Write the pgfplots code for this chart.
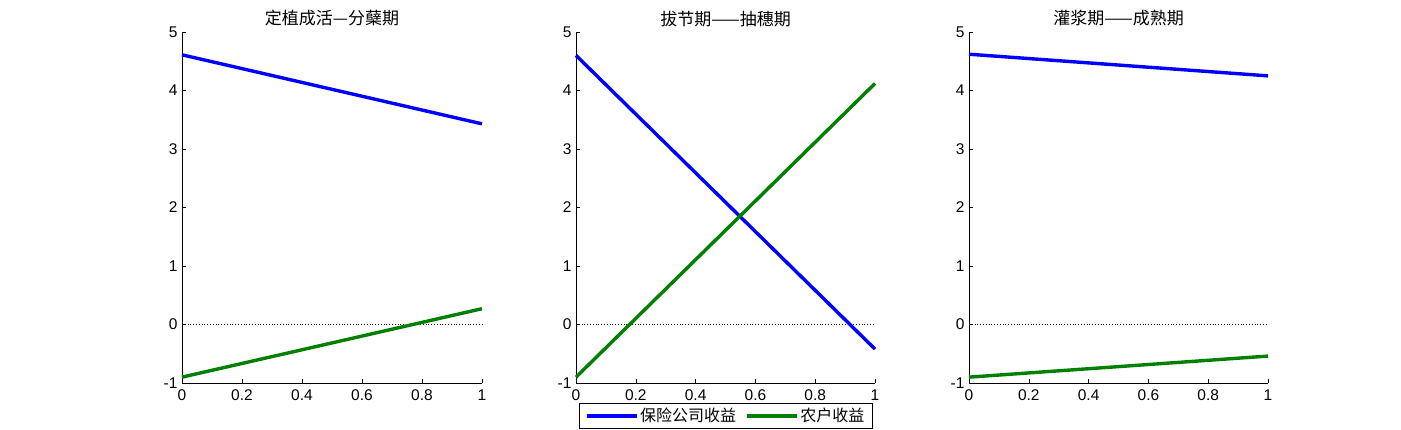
\documentclass[border=0pt]{standalone}
\usepackage{pgfplots}
\pgfplotsset{compat=1.18}
\usepackage{fontspec}
\setmainfont{Liberation Sans}
\newfontfamily\cjk{Noto Sans CJK SC}
\definecolor{mblue}{RGB}{0,0,255}
\definecolor{mgreen}{RGB}{0,128,0}
\pgfplotsset{
  mystyle/.style={
    scale only axis, width=300pt, height=351pt,
    xmin=0, xmax=1, ymin=-1, ymax=5,
    axis x line*=bottom, axis y line*=left,
    axis line style={-, line width=0.8pt},
    tick align=inside, major tick length=4pt,
    tick style={black, line width=0.6pt},
    xtick={0,0.2,0.4,0.6,0.8,1}, ytick={-1,0,1,2,3,4,5},
    xticklabels={0,0.2,0.4,0.6,0.8,1},
    yticklabels={-1,0,1,2,3,4,5},
    tick label style={font=\fontsize{15.5}{17}\selectfont},
    xticklabel style={yshift=-3pt},
    yticklabel style={xshift=-1pt},
    title style={font=\fontsize{17}{19}\selectfont\cjk, yshift=-4pt},
    anchor=south west,
    clip=false,
  },
  b/.style={mblue, line width=3.4pt},
  g/.style={mgreen, line width=3.4pt},
  z/.style={black, dotted, line width=0.8pt},
}
\begin{document}
\begin{tikzpicture}[x=1pt,y=1pt]
\useasboundingbox (0,0) rectangle (1401,430);
\begin{axis}[mystyle, at={(182pt,47pt)}, title={定植成活—分蘖期}]
\addplot[z] coordinates {(0,0) (1,0)};
\addplot[b] coordinates {(0,4.61) (1,3.43)};
\addplot[g] coordinates {(0,-0.90) (1,0.27)};
\end{axis}
\begin{axis}[mystyle, width=299pt, at={(576pt,47pt)}, title={拔节期——抽穗期},
  legend columns=2,
  legend style={at={(0.5,-0.057)}, anchor=north, draw=black, line width=0.6pt,
    font=\fontsize{16}{18}\selectfont\cjk, inner xsep=6pt, inner ysep=2.5pt,
    nodes={inner xsep=1.5pt, inner ysep=2.5pt},
    /tikz/every even column/.append style={column sep=8pt}},
  legend image code/.code={\draw[#1, line width=3.4pt] (0pt,0pt) -- (50pt,0pt);}]
\addplot[z, forget plot] coordinates {(0,0) (1,0)};
\addplot[b] coordinates {(0,4.60) (1,-0.42)};
\addlegendentry{保险公司收益}
\addplot[g] coordinates {(0,-0.90) (1,4.12)};
\addlegendentry{农户收益}
\end{axis}
\begin{axis}[mystyle, width=299pt, at={(969pt,47pt)}, title={灌浆期——成熟期}]
\addplot[z] coordinates {(0,0) (1,0)};
\addplot[b] coordinates {(0,4.62) (1,4.25)};
\addplot[g] coordinates {(0,-0.90) (1,-0.54)};
\end{axis}
\end{tikzpicture}
\end{document}
